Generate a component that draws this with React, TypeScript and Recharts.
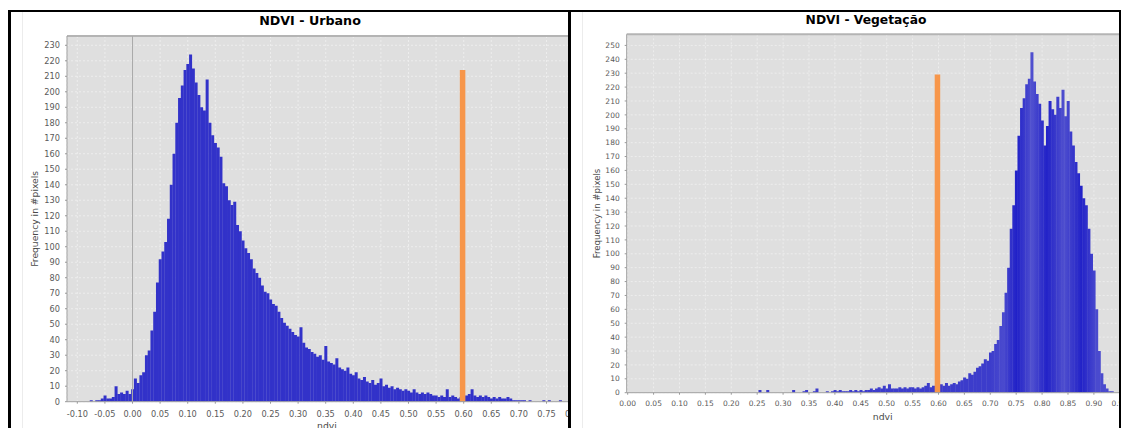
import React from 'react';
import { Bar, BarChart, CartesianGrid, ReferenceLine, XAxis, YAxis } from 'recharts';

// histogram bins (width 0.005), counts
const BIN_WIDTH = 0.005;

const URBAN_BIN_START = -0.08;
const URBAN_COUNTS = [
  0, 1, 0, 1, 1, 2, 4, 2, 2, 3,
  10, 5, 6, 5, 7, 5, 8, 15, 12, 17,
  19, 30, 33, 46, 58, 77, 92, 97, 103, 118,
  140, 160, 180, 196, 204, 214, 218, 224, 215, 206,
  198, 190, 188, 208, 180, 172, 167, 164, 158, 141,
  139, 130, 127, 129, 114, 110, 104, 99, 96, 92,
  86, 83, 80, 75, 71, 70, 66, 63, 62, 58,
  54, 51, 49, 47, 45, 43, 42, 48, 38, 35,
  34, 32, 31, 29, 30, 27, 36, 26, 25, 24,
  28, 22, 21, 20, 22, 18, 17, 19, 15, 14,
  16, 13, 12, 14, 11, 12, 15, 10, 11, 9,
  10, 8, 9, 8, 7, 8, 7, 6, 8, 6,
  5, 6, 5, 6, 5, 4, 4, 3, 4, 3,
  8, 3, 4, 3, 2, 3, 3, 4, 5, 8,
  4, 3, 4, 3, 4, 3, 2, 3, 2, 3,
  2, 2, 3, 2, 1, 1, 1, 1, 1, 0,
  1, 0, 0, 0, 0, 1, 0, 1, 0, 0,
  0, 1,
];

const VEG_BIN_START = 0.25;
const VEG_COUNTS = [
  0, 2, 0, 0, 2, 0, 0, 0, 0, 0,
  0, 0, 0, 0, 2, 0, 0, 0, 1, 2,
  0, 0, 1, 3, 0, 0, 0, 1, 0, 1,
  2, 1, 2, 1, 1, 1, 2, 1, 2, 1,
  2, 1, 2, 2, 3, 2, 3, 4, 3, 5,
  3, 6, 3, 3, 3, 4, 3, 4, 3, 4,
  4, 3, 4, 3, 4, 5, 7, 4, 5, 3,
  4, 6, 5, 7, 5, 6, 7, 6, 8, 9,
  11, 10, 14, 13, 15, 18, 19, 21, 24, 23,
  29, 30, 35, 38, 48, 58, 72, 90, 118, 135,
  160, 185, 205, 212, 222, 226, 245, 224, 215, 208,
  196, 178, 192, 210, 204, 200, 213, 205, 218, 199,
  210, 188, 178, 166, 158, 149, 140, 135, 118, 100,
  88, 60, 30, 14, 6, 3, 1, 1, 0, 0,
  0,
];

// orange threshold marker bar in each plot
const URBAN_MARK = { ndvi: 0.598, count: 214 };
const VEG_MARK = { ndvi: 0.598, count: 229 };

const URBAN_X_TICKS = [
  -0.1, -0.05, 0, 0.05, 0.1, 0.15, 0.2, 0.25, 0.3, 0.35, 0.4, 0.45, 0.5, 0.55, 0.6, 0.65, 0.7, 0.75, 0.8,
];
const URBAN_Y_TICKS = [
  0, 10, 20, 30, 40, 50, 60, 70, 80, 90, 100, 110, 120, 130, 140, 150, 160, 170, 180, 190, 200, 210, 220, 230,
];
const VEG_X_TICKS = [
  0, 0.05, 0.1, 0.15, 0.2, 0.25, 0.3, 0.35, 0.4, 0.45, 0.5, 0.55, 0.6, 0.65, 0.7, 0.75, 0.8, 0.85, 0.9, 0.95,
];
const VEG_Y_TICKS = [
  0, 10, 20, 30, 40, 50, 60, 70, 80, 90, 100, 110, 120, 130, 140, 150, 160, 170, 180, 190, 200, 210, 220, 230, 240, 250,
];

const URBAN_X_DOMAIN: [number, number] = [-0.1187, 0.8234];
const URBAN_Y_DOMAIN: [number, number] = [0, 236];
const VEG_X_DOMAIN: [number, number] = [-0.0019, 0.9865];
const VEG_Y_DOMAIN: [number, number] = [0, 258];

const toRows = (start: number, counts: number[]) =>
  counts.map((count, i) => ({ ndvi: +(start + i * BIN_WIDTH).toFixed(3), count }));

const urbanData = toRows(URBAN_BIN_START, URBAN_COUNTS);
const vegData = toRows(VEG_BIN_START, VEG_COUNTS);

const FONT = 'DejaVu Sans';
const fmt = (v: number) => v.toFixed(2);

function YTitle(props: any) {
  const { viewBox, dx, size } = props;
  const cx = viewBox.x + dx;
  const cy = viewBox.y + viewBox.height / 2;
  return (
    <text
      x={cx}
      y={cy}
      transform={`rotate(-90 ${cx} ${cy})`}
      textAnchor="middle"
      dominantBaseline="central"
      fontSize={size}
      fill="#4a4a4a"
    >
      Frequency in #pixels
    </text>
  );
}

// vegetation plot geometry (chart-local px) for the banded fill
const VEG_PLOT_LEFT = 44.7;
const VEG_PLOT_WIDTH = 512;
const vegPx = (v: number) =>
  VEG_PLOT_LEFT + ((v - VEG_X_DOMAIN[0]) / (VEG_X_DOMAIN[1] - VEG_X_DOMAIN[0])) * VEG_PLOT_WIDTH;
const BAND_FROM = 0.7;
const BAND_TO = 0.93;
const BANDS = [
  { v: 0.7, c: '#3c3ccb' },
  { v: 0.725, c: '#4a4ace' },
  { v: 0.751, c: '#2020c8' },
  { v: 0.78, c: '#5050cf' },
  { v: 0.809, c: '#2222c8' },
  { v: 0.842, c: '#4e4ece' },
  { v: 0.876, c: '#2222c8' },
  { v: 0.905, c: '#4a4ace' },
];

const line = (style: React.CSSProperties): React.CSSProperties => ({
  position: 'absolute',
  background: '#000',
  ...style,
});

export default function App() {
  return (
    <div
      style={{
        position: 'absolute',
        left: 0,
        top: 0,
        width: 1121,
        height: 428,
        overflow: 'hidden',
        background: '#fff',
        fontFamily: FONT,
      }}
    >
      {/* table borders */}
      <div style={line({ left: 8, top: 10, width: 1113, height: 2 })} />
      <div style={line({ left: 8, top: 10, width: 3, height: 418 })} />
      <div style={line({ left: 568, top: 10, width: 3, height: 418 })} />
      <div style={line({ left: 1119, top: 10, width: 2, height: 418 })} />
      <div style={line({ left: 22, top: 12, width: 1, height: 416, background: '#ececec' })} />
      <div style={line({ left: 582, top: 12, width: 1, height: 416, background: '#ececec' })} />

      {/* left: urban */}
      <div style={{ position: 'absolute', left: 11, top: 12, width: 557, height: 416, overflow: 'hidden' }}>
        <div style={{ position: 'absolute', left: 11, top: -12 }}>
          <BarChart
            width={576}
            height={440}
            data={urbanData}
            margin={{ top: 36, right: 11, left: 0, bottom: 0 }}
            barCategoryGap={0}
            barGap={0}
            style={{ fontFamily: FONT }}
          >
            <CartesianGrid fill="#dfdfdf" stroke="#ededed" strokeDasharray="2 2" />
            <XAxis
              dataKey="ndvi"
              type="number"
              domain={URBAN_X_DOMAIN}
              allowDataOverflow
              ticks={URBAN_X_TICKS}
              interval={0}
              tickFormatter={fmt}
              tick={{ fontSize: 8.2, fill: '#5a5a5a' }}
              tickSize={2}
              tickMargin={7}
              tickLine={{ stroke: '#999' }}
              axisLine={{ stroke: '#a0a0a0' }}
              height={38.3}
              label={{ value: 'ndvi', position: 'insideBottom', offset: 10.7, fill: '#4a4a4a', fontSize: 9.3 }}
            />
            <YAxis
              type="number"
              domain={URBAN_Y_DOMAIN}
              allowDataOverflow
              ticks={URBAN_Y_TICKS}
              interval={0}
              width={45}
              tick={{ fontSize: 8.2, fill: '#5a5a5a' }}
              tickSize={2}
              tickMargin={5}
              tickLine={{ stroke: '#999' }}
              axisLine={{ stroke: '#a0a0a0' }}
              label={<YTitle dx={13} size={9.2} />}
            />
            <ReferenceLine y={URBAN_Y_DOMAIN[1]} stroke="#b4b4b4" strokeWidth={2} />
            <ReferenceLine x={0} stroke="#a9a9a9" />
            <Bar dataKey="count" fill="#3232c9" isAnimationActive={false} />
            <ReferenceLine
              segment={[
                { x: URBAN_MARK.ndvi, y: 0 },
                { x: URBAN_MARK.ndvi, y: URBAN_MARK.count },
              ]}
              stroke="#f7964a"
              strokeWidth={5.5}
            />
          </BarChart>
        </div>
      </div>
      <div
        style={{
          position: 'absolute',
          left: 22,
          width: 576,
          top: 15.3,
          lineHeight: 1,
          fontSize: 12.7,
          fontWeight: 'bold',
          textAlign: 'center',
          color: '#000',
        }}
      >
        NDVI - Urbano
      </div>

      {/* right: vegetation */}
      <div style={{ position: 'absolute', left: 571, top: 12, width: 548, height: 416, overflow: 'hidden' }}>
        <div style={{ position: 'absolute', left: 11, top: -12 }}>
          <BarChart
            width={568}
            height={440}
            data={vegData}
            margin={{ top: 34.3, right: 11.3, left: 0, bottom: 0 }}
            barCategoryGap={0}
            barGap={0}
            style={{ fontFamily: FONT }}
          >
            <defs>
              <linearGradient
                id="vegBands"
                gradientUnits="userSpaceOnUse"
                x1={vegPx(BAND_FROM)}
                x2={vegPx(BAND_TO)}
                y1={0}
                y2={0}
              >
                {BANDS.map((b) => (
                  <stop key={b.v} offset={(b.v - BAND_FROM) / (BAND_TO - BAND_FROM)} stopColor={b.c} />
                ))}
              </linearGradient>
            </defs>
            <CartesianGrid fill="#dfdfdf" stroke="#ededed" strokeDasharray="2 2" />
            <XAxis
              dataKey="ndvi"
              type="number"
              domain={VEG_X_DOMAIN}
              allowDataOverflow
              ticks={VEG_X_TICKS}
              interval={0}
              tickFormatter={fmt}
              tick={{ fontSize: 7.5, fill: '#5a5a5a' }}
              tickSize={2}
              tickMargin={6}
              tickLine={{ stroke: '#999' }}
              axisLine={{ stroke: '#a0a0a0' }}
              height={47.3}
              label={{ value: 'ndvi', position: 'insideBottom', offset: 20, fill: '#4a4a4a', fontSize: 9.3 }}
            />
            <YAxis
              type="number"
              domain={VEG_Y_DOMAIN}
              allowDataOverflow
              ticks={VEG_Y_TICKS}
              interval={0}
              width={VEG_PLOT_LEFT}
              tick={{ fontSize: 7.5, fill: '#5a5a5a' }}
              tickSize={2}
              tickMargin={5}
              tickLine={{ stroke: '#999' }}
              axisLine={{ stroke: '#a0a0a0' }}
              label={<YTitle dx={15} size={8.6} />}
            />
            <ReferenceLine y={VEG_Y_DOMAIN[1]} stroke="#b4b4b4" strokeWidth={2} />
            <Bar dataKey="count" fill="url(#vegBands)" isAnimationActive={false} />
            <ReferenceLine
              segment={[
                { x: VEG_MARK.ndvi, y: 0 },
                { x: VEG_MARK.ndvi, y: VEG_MARK.count },
              ]}
              stroke="#f7964a"
              strokeWidth={5.5}
            />
          </BarChart>
        </div>
      </div>
      <div
        style={{
          position: 'absolute',
          left: 582,
          width: 568,
          top: 13.8,
          lineHeight: 1,
          fontSize: 12.3,
          fontWeight: 'bold',
          textAlign: 'center',
          color: '#000',
        }}
      >
        NDVI - Vegetação
      </div>
    </div>
  );
}
